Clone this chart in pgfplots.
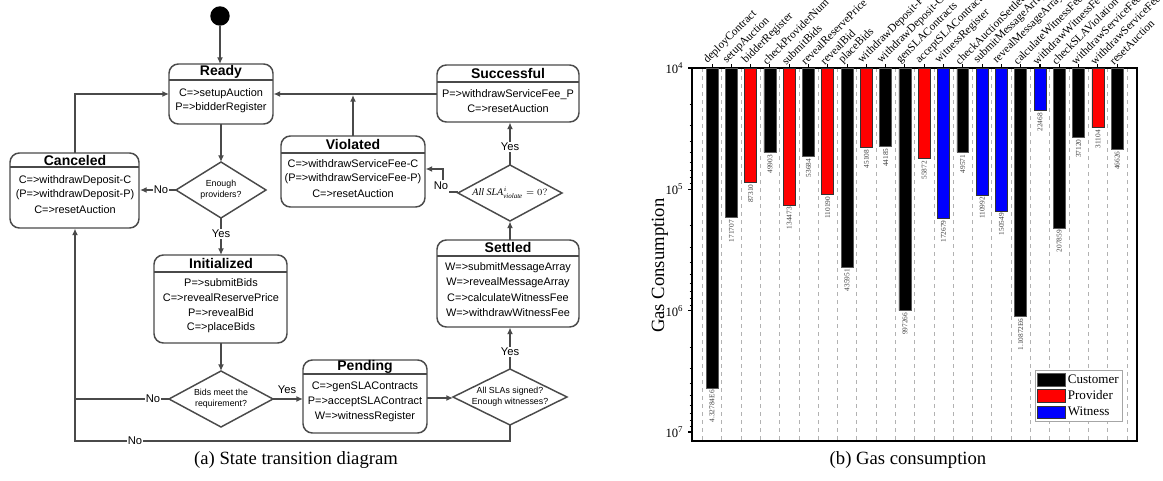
\documentclass[border=0pt]{standalone}
\usepackage{pgfplots}
\pgfplotsset{compat=1.18}
\usepackage{pgfplotstable}
\usetikzlibrary{arrows.meta}
\usepackage{fontspec}
\setmainfont{Liberation Serif}
\newfontfamily\arial{Liberation Sans}

\definecolor{ln}{HTML}{4A4A4A}
\newcommand{\bt}{\arial\fontsize{8.2}{11.2}\selectfont}
\newcommand{\tl}{\arial\bfseries\fontsize{10.5}{12}\selectfont}
\newcommand{\dm}{\arial\fontsize{6.6}{8.3}\selectfont}
\newcommand{\yn}{\arial\fontsize{8.4}{10}\selectfont}

\pgfplotsset{barleg/.style={legend image code/.code={\draw[##1, line width=0.5pt] (0pt,-4.8pt) rectangle (21pt,4.8pt);}}}

\pgfplotstableread{
x y lab
0 4327840 4.32784E6
1 171707 171707
3 49903 49903
5 53684 53684
7 435951 435951
9 44185 44185
10 997266 997266
13 49571 49571
16 1108720 1.10872E6
18 207859 207859
19 37120 37120
21 46626 46626
}\cust
\pgfplotstableread{
x y lab
2 87310 87310
4 134473 134473
6 110190 110190
8 45108 45108
11 55872 55872
20 31104 31104
}\prov
\pgfplotstableread{
x y lab
12 172679 172679
14 110992 110992
15 150549 150549
17 22468 22468
}\wit

\begin{document}
\begin{tikzpicture}
\begin{scope}[x=0.75pt,y=-0.75pt,
  lk/.style={draw=ln, line width=1.1pt},
  ar/.style={draw=ln, line width=1.1pt, -{Latex[length=5pt,width=4.5pt]}},
  box/.style={draw=ln, line width=1.1pt, rounded corners=7pt},
  sep/.style={draw=ln, line width=1.1pt},
  lab/.style={font=\yn, fill=white, inner sep=0.6pt}]

% start
\fill[black] (220,16) circle (7.3pt);
\draw[ar] (220,26) -- (220,64);

% Ready
\draw[box] (169,64) rectangle (273,124);
\draw[sep] (169,80) -- (273,80);
\node[font=\tl, inner sep=0pt] at (221,72) {Ready};
\node[font=\bt, inner sep=0pt] at (221,94) {C=>setupAuction};
\node[font=\bt, inner sep=0pt] at (221,108) {P=>bidderRegister};

% Canceled
\draw[box] (10,153) rectangle (139,228);
\draw[sep] (10,167) -- (139,167);
\node[font=\tl, inner sep=0pt] at (75,160) {Canceled};
\node[font=\bt, inner sep=0pt] at (75,181) {C=>withdrawDeposit-C};
\node[font=\bt, inner sep=0pt] at (75,195) {(P=>withdrawDeposit-P)};
\node[font=\bt, inner sep=0pt] at (75,210) {C=>resetAuction};

% Violated
\draw[box] (281,136) rectangle (425,207);
\draw[sep] (281,153) -- (425,153);
\node[font=\tl, inner sep=0pt] at (353,144) {Violated};
\node[font=\bt, inner sep=0pt] at (353,164) {C=>withdrawServiceFee-C};
\node[font=\bt, inner sep=0pt] at (353,179) {(P=>withdrawServiceFee-P)};
\node[font=\bt, inner sep=0pt] at (353,194) {C=>resetAuction};

% Successful
\draw[box] (437,65) rectangle (579,122);
\draw[sep] (437,82) -- (579,82);
\node[font=\tl, inner sep=0pt] at (508,73) {Successful};
\node[font=\bt, inner sep=0pt] at (508,95) {P=>withdrawServiceFee\_P};
\node[font=\bt, inner sep=0pt] at (508,109) {C=>resetAuction};

% Initialized
\draw[box] (154,255) rectangle (287,343);
\draw[sep] (154,272) -- (287,272);
\node[font=\tl, inner sep=0pt] at (221,263) {Initialized};
\node[font=\bt, inner sep=0pt] at (221,283) {P=>submitBids};
\node[font=\bt, inner sep=0pt] at (221,298) {C=>revealReservePrice};
\node[font=\bt, inner sep=0pt] at (221,313) {P=>revealBid};
\node[font=\bt, inner sep=0pt] at (221,328) {C=>placeBids};

% Pending
\draw[box] (303,360) rectangle (427,433);
\draw[sep] (303,374) -- (427,374);
\node[font=\tl, inner sep=0pt] at (365,367) {Pending};
\node[font=\bt, inner sep=0pt] at (365,387) {C=>genSLAContracts};
\node[font=\bt, inner sep=0pt] at (365,402) {P=>acceptSLAContract};
\node[font=\bt, inner sep=0pt] at (365,417) {W=>witnessRegister};

% Settled
\draw[box] (437,240) rectangle (579,327);
\draw[sep] (437,256) -- (579,256);
\node[font=\tl, inner sep=0pt] at (508,247) {Settled};
\node[font=\bt, inner sep=0pt] at (508,268) {W=>submitMessageArray};
\node[font=\bt, inner sep=0pt] at (508,283) {W=>revealMessageArray};
\node[font=\bt, inner sep=0pt] at (508,298) {C=>calculateWitnessFee};
\node[font=\bt, inner sep=0pt] at (508,313) {W=>withdrawWitnessFee};

% diamonds
\draw[lk] (176,190) -- (221,162) -- (266,190) -- (221,218) -- cycle;
\node[font=\dm, align=center, inner sep=0pt] at (221,190) {Enough\\providers?};
\draw[lk] (169,399) -- (221,371) -- (273,399) -- (221,427) -- cycle;
\node[font=\dm, align=center, inner sep=0pt] at (221,399) {Bids meet the\\requirement?};
\draw[lk] (458,193) -- (510,165) -- (562,193) -- (510,221) -- cycle;
\node[inner sep=0pt] at (510,193) {\fontsize{7.5}{8}\selectfont $\mathit{All}\ \mathit{SLA}^{i}_{\mathit{violate}}=0?$};
\draw[lk] (453,397) -- (510,369) -- (567,397) -- (510,425) -- cycle;
\node[font=\dm, align=center, inner sep=0pt] at (510,397) {All SLAs signed?\\Enough witnesses?};

% arrows
\draw[ar] (221,124) -- (221,162);
\draw[ar] (176,190) -- (140,190);
\node[lab] at (161,190) {No};
\draw[ar] (221,218) -- (221,255);
\node[lab] at (221,234) {Yes};
\draw[ar] (75,153) -- (75,94) -- (169,94);
\draw[ar] (437,94) -- (273.5,94);
\draw[ar] (353,136) -- (353,95);
\draw[ar] (510,165) -- (510,122.5);
\node[lab] at (510,147) {Yes};
\draw[lk] (458,192) -- (449,192);
\node[font=\yn, inner sep=0.5pt] at (441,186) {No};
\draw[ar] (443,180) -- (443,169) -- (425.5,169);
\draw[ar] (510,240) -- (510,221.5);
\draw[ar] (510,369) -- (510,327.5);
\node[lab] at (510,352) {Yes};
\draw[ar] (221,343) -- (221,371);
\draw[ar] (273,399) -- (303,399);
\node[font=\yn, inner sep=0pt] at (287,390) {Yes};
\draw[ar] (427,398) -- (453,398);
\draw[lk] (169,399) -- (75,399);
\node[lab] at (153,399) {No};
\draw[ar] (510,425) -- (510,441) -- (75,441) -- (75,228.5);
\node[lab] at (135,441) {No};

% captions
\node[font=\fontsize{14}{16}\selectfont, inner sep=0pt] at (296,460) {(a) State transition diagram};
\node[font=\fontsize{14}{16}\selectfont, inner sep=0pt] at (908,460) {(b) Gas consumption};
\end{scope}

\begin{axis}[
  at={(519pt,-330.75pt)}, anchor=south west,
  scale only axis, width=333.75pt, height=279.75pt,
  xmin=-1.04, xmax=22.03,
  ymode=log, y dir=reverse, ymin=1e4, ymax=1.186e7,
  log origin y=infty,
  ybar,
  axis line style={line width=1.2pt},
  tick align=outside,
  xtick pos=right, xticklabel pos=right,
  ytick pos=left,
  xtick={0,...,21},
  xticklabels={deployContract,setupAuction,bidderRegister,checkProviderNum,submitBids,revealReservePrice,revealBid,placeBids,withdrawDeposit-P,withdrawDeposit-C,genSLAContracts,acceptSLAContract,witnessRegister,checkAuctionSettled,submitMessageArray,revealMessageArray,calculateWitnessFee,withdrawWitnessFee,checkSLAViolation,withdrawServiceFee-C,withdrawServiceFee-P,resetAuction},
  xticklabel style={rotate=45, anchor=south west, font=\fontsize{8.5}{10}\selectfont, inner sep=0.5pt, xshift=-3pt},
  ytick={1e4,1e5,1e6,1e7},
  yticklabels={10\textsuperscript{4},10\textsuperscript{5},10\textsuperscript{6},10\textsuperscript{7}},
  minor ytick={2e4,3e4,4e4,5e4,6e4,7e4,8e4,9e4,2e5,3e5,4e5,5e5,6e5,7e5,8e5,9e5,2e6,3e6,4e6,5e6,6e6,7e6,8e6,9e6},
  yticklabel style={font=\fontsize{9.5}{11}\selectfont},
  major tick length=3pt, minor tick length=1.8pt,
  tick style={black, line width=0.8pt},
  minor xtick={-0.5,0.5,...,21.5},
  xminorgrids, minor x grid style={dashed, gray!60, line width=0.4pt},
  minor x tick style={draw=none},
  ylabel={Gas Consumption},
  every axis y label/.style={at={(axis description cs:-0.072,0.47)}, rotate=90, anchor=center, font=\fontsize{14}{16}\selectfont},
  legend style={at={(0.9685,0.051)}, anchor=south east, draw=gray!70, line width=0.5pt,
    font=\fontsize{9.8}{11}\selectfont, inner sep=1pt, row sep=0pt, cells={anchor=west}},
  nodes near coords, point meta=explicit symbolic,
  every node near coord/.append style={rotate=90, anchor=east, font=\fontsize{5.5}{6}\selectfont, text=black!75, inner sep=1.5pt},
]
\addplot[fill=black, draw=gray!70!black, line width=0.5pt, bar width=0.62, bar shift=0pt, barleg]
  table[x=x,y=y,meta=lab]{\cust};
\addplot[fill=red, draw=black!80, line width=0.5pt, bar width=0.62, bar shift=0pt, barleg]
  table[x=x,y=y,meta=lab]{\prov};
\addplot[fill=blue, draw=black!80, line width=0.5pt, bar width=0.62, bar shift=0pt, barleg]
  table[x=x,y=y,meta=lab]{\wit};
\legend{Customer,Provider,Witness}
\end{axis}
\pgfresetboundingbox
\path[use as bounding box] (0pt,0pt) rectangle (872.25pt,-360.75pt);
\end{tikzpicture}
\end{document}
